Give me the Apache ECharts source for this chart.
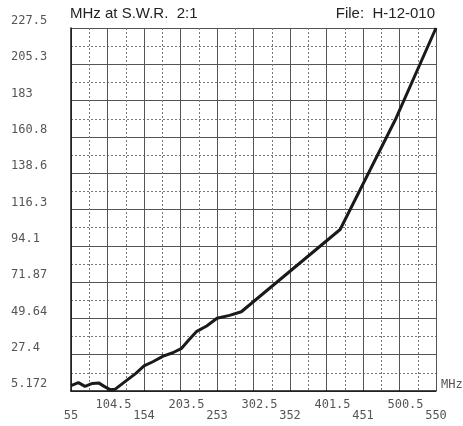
<!DOCTYPE html>
<html>
<head>
<meta charset="utf-8">
<script src="https://cdn.jsdelivr.net/npm/echarts@6/dist/echarts.min.js"></script>
<style>
html,body{margin:0;padding:0;background:#fff;}
#chart{width:463px;height:426px;}
</style>
</head>
<body>
<div id="chart"></div>
<script>
// Axis tick labels
const xTickLabels = ['55','104.5','154','203.5','253','302.5','352','401.5','451','500.5','550'];
const yTickLabels = ['5.172','27.4','49.64','71.87','94.1','116.3','138.6','160.8','183','205.3','227.5'];
const xMin = 55, xStep = 49.5;
const yMin = 5.172, yStep = 22.2328;

// Curve: frequency (MHz) vs value
const freqMHz = [55, 65, 74, 84, 93, 100, 108, 115, 130, 143, 154, 166, 180, 193, 205, 215, 225, 239, 253, 270, 286, 420, 496, 550];
const values  = [8.5, 10.3, 8.0, 9.8, 10.0, 8.0, 6.0, 6.3, 11.5, 16.0, 20.5, 23.1, 26.5, 28.6, 31.3, 36.5, 41.5, 45.0, 49.7, 51.5, 53.7, 104.1, 172.4, 227.5];

const seriesData = freqMHz.map((f, i) => [f - xMin, values[i] - yMin]);

const chart = echarts.init(document.getElementById('chart'), null, {renderer: 'canvas'});
const labelFont = 'DejaVu Sans Mono';
chart.setOption({
  animation: false,
  backgroundColor: '#fff',
  title: [
    {text: 'MHz at S.W.R.  2:1', left: 70, top: 6, padding: 0,
     textStyle: {fontFamily: 'Liberation Sans', fontSize: 15, fontWeight: 'normal', color: '#222'}},
    {text: 'File:  H-12-010', right: 28, top: 6, padding: 0,
     textStyle: {fontFamily: 'Liberation Sans', fontSize: 15, fontWeight: 'normal', color: '#222'}}
  ],
  grid: {left: 71, top: 28, right: 27, bottom: 35, containLabel: false, outerBoundsMode: 'none', show: false},
  xAxis: {
    type: 'value', min: 0, max: +(xStep * 10).toFixed(4), interval: xStep,
    name: 'MHz', nameLocation: 'end', nameGap: 5,
    nameTextStyle: {fontFamily: labelFont, fontSize: 12, color: '#555', verticalAlign: 'bottom', align: 'left'},
    axisLine: {show: true, lineStyle: {color: '#111', width: 1.5}},
    axisTick: {show: false},
    axisLabel: {
      margin: 8, fontFamily: labelFont, fontSize: 12, color: '#555', lineHeight: 11,
      showMinLabel: true, showMaxLabel: true, hideOverlap: false, interval: 0,
      formatter: v => {
        const i = Math.round(v / xStep);
        return i % 2 === 1 ? '{u|' + xTickLabels[i] + '}' : '\n' + xTickLabels[i];
      },
      rich: {u: {fontFamily: labelFont, fontSize: 12, color: '#555', lineHeight: 11, padding: [0, 0, 0, 12]}}
    },
    splitLine: {show: true, lineStyle: {color: '#555', width: 1}},
    minorTick: {show: false, splitNumber: 2},
    minorSplitLine: {show: true, lineStyle: {color: '#777', width: 1, type: [2, 2]}}
  },
  yAxis: {
    type: 'value', min: 0, max: +(yStep * 10).toFixed(4), interval: yStep,
    axisLine: {show: true, lineStyle: {color: '#111', width: 1.5}},
    axisTick: {show: false},
    axisLabel: {
      margin: 60, align: 'left', fontFamily: labelFont, fontSize: 12, color: '#555', lineHeight: 14,
      showMinLabel: true, showMaxLabel: true,
      formatter: v => yTickLabels[Math.round(v / yStep)] + '\n'
    },
    splitLine: {show: true, lineStyle: {color: '#555', width: 1}},
    minorTick: {show: false, splitNumber: 2},
    minorSplitLine: {show: true, lineStyle: {color: '#777', width: 1, type: [2, 2]}}
  },
  series: [{
    type: 'line', data: seriesData, showSymbol: false, symbol: 'none', smooth: false,
    lineStyle: {color: '#1a1a1a', width: 3}, z: 5
  }]
});
</script>
</body>
</html>
